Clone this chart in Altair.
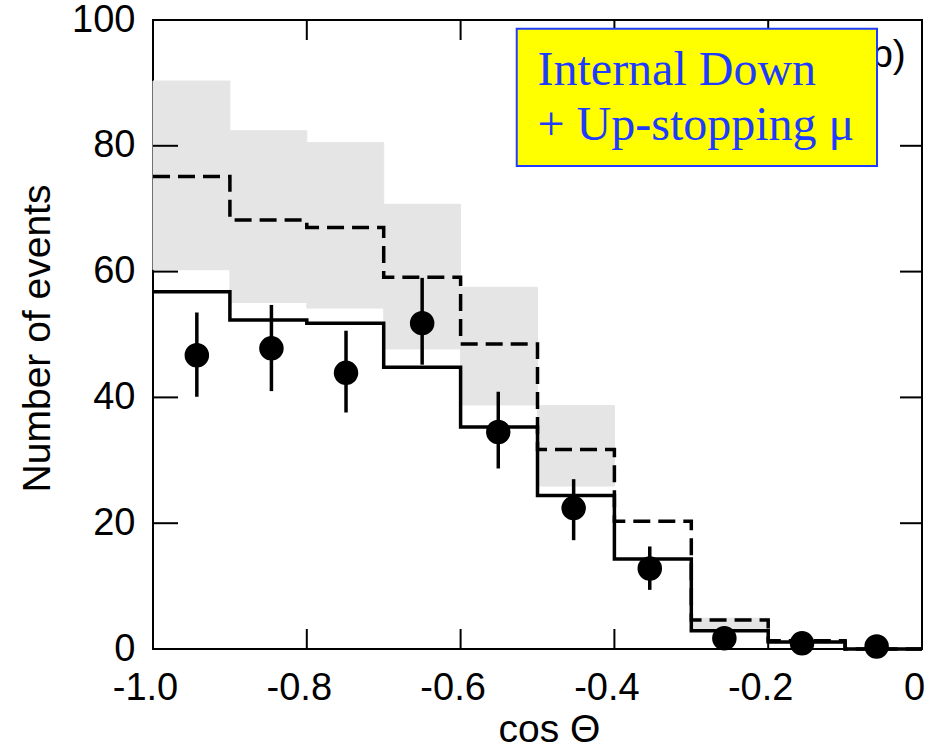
import altair as alt
import pandas as pd

# Bin edges in cos(Theta)
bin_lo = [-1.0, -0.9, -0.8, -0.7, -0.6, -0.5, -0.4, -0.3, -0.2, -0.1]
bin_hi = [-0.9, -0.8, -0.7, -0.6, -0.5, -0.4, -0.3, -0.2, -0.1, 0.0]

# Monte Carlo with oscillation (solid) and without oscillation (dashed)
mc_osc = [56.8, 52.3, 51.8, 44.8, 35.3, 24.4, 14.3, 2.9, 1.1, 0.0]
mc_noosc = [75.1, 68.2, 67.0, 59.1, 48.5, 31.7, 20.3, 4.6, 1.3, 0.0]

# Systematic band on the no-oscillation prediction
band_bins = [0, 1, 2, 3, 4, 5, 7]
band_low = [60.3, 55.1, 54.2, 47.7, 38.8, 25.9, 3.0]
band_high = [90.3, 82.4, 80.5, 70.7, 57.5, 38.7, 4.9]

# Observed data with statistical errors
data_x = [-0.943, -0.846, -0.749, -0.650, -0.551, -0.453, -0.354, -0.257, -0.156, -0.059]
data_y = [46.7, 47.8, 43.9, 51.8, 34.5, 22.4, 12.8, 1.7, 0.9, 0.4]
data_lo = [40.1, 41.0, 37.6, 45.2, 28.7, 17.3, 9.4, 0.6, 0.2, 0.0]
data_hi = [53.5, 54.7, 50.6, 59.0, 40.9, 27.0, 16.3, 3.0, 1.8, 1.0]

x_ticks = [-1.0, -0.8, -0.6, -0.4, -0.2, 0.0]
y_ticks = [0, 20, 40, 60, 80, 100]

W, H = 769, 629
SANS = "Liberation Sans, Arial, Helvetica, sans-serif"
SERIF = "Liberation Serif, Times New Roman, serif"
BLUE = "#1e3cff"
BAND = "#e5e5e5"


def step_table(values):
    rows = [{"x": lo, "y": v} for lo, v in zip(bin_lo, values)]
    rows.append({"x": bin_hi[-1], "y": values[-1]})
    return pd.DataFrame(rows)


xs = alt.Scale(domain=[-1.0, 0.0], nice=False, zero=False)
ys = alt.Scale(domain=[0, 100], nice=False, zero=False)

x_axis = alt.Axis(
    values=x_ticks, ticks=False, domain=False, grid=False,
    labelExpr="datum.value == 0 ? '0' : '-' + format(abs(datum.value), '.1f')",
    labelFont=SANS, labelFontSize=38, labelColor="black", labelPadding=20,
    labelOffset=-8, labelFlush=False, labelOverlap=False,
    title="cos Θ", titleFont=SANS, titleFontSize=39, titleFontWeight="normal",
    titleColor="black", titlePadding=3, titleX=396,
)
y_axis = alt.Axis(
    values=y_ticks, ticks=False, domain=False, grid=False, format="d",
    labelFont=SANS, labelFontSize=38, labelColor="black", labelPadding=18,
    labelFlush=False, labelOverlap=False,
    title="Number of events", titleFont=SANS, titleFontSize=39,
    titleFontWeight="normal", titleColor="black", titlePadding=14, titleY=318,
)

band_df = pd.DataFrame({
    "lo_x": [bin_lo[i] for i in band_bins],
    "hi_x": [bin_hi[i] for i in band_bins],
    "low": band_low,
    "high": band_high,
})
band = alt.Chart(band_df).mark_rect(
    fill=BAND, stroke=BAND, strokeWidth=1
).encode(
    x=alt.X("lo_x:Q", scale=xs, axis=x_axis),
    x2="hi_x:Q",
    y=alt.Y("low:Q", scale=ys, axis=y_axis),
    y2="high:Q",
)

dashed = alt.Chart(step_table(mc_noosc)).mark_line(
    interpolate="step-after", color="black", strokeWidth=3.5, strokeDash=[17, 8]
).encode(x=alt.X("x:Q", scale=xs), y=alt.Y("y:Q", scale=ys))

solid = alt.Chart(step_table(mc_osc)).mark_line(
    interpolate="step-after", color="black", strokeWidth=3.5
).encode(x=alt.X("x:Q", scale=xs), y=alt.Y("y:Q", scale=ys))

pts_df = pd.DataFrame({"x": data_x, "y": data_y, "lo": data_lo, "hi": data_hi})
errbars = alt.Chart(pts_df).mark_rule(color="black", strokeWidth=3.5).encode(
    x=alt.X("x:Q", scale=xs), y=alt.Y("lo:Q", scale=ys), y2="hi:Q"
)
points = alt.Chart(pts_df).mark_point(
    shape="circle", filled=True, color="black", opacity=1, size=600
).encode(x=alt.X("x:Q", scale=xs), y=alt.Y("y:Q", scale=ys))

# Inward tick marks on all four sides of the frame
yt = pd.DataFrame({"v": y_ticks[1:-1]})
xt = pd.DataFrame({"v": x_ticks[1:-1]})
tick_style = dict(color="black", strokeWidth=2)
left_ticks = alt.Chart(yt).mark_rule(**tick_style).encode(
    y=alt.Y("v:Q", scale=ys), x=alt.value(0), x2=alt.value(25))
right_ticks = alt.Chart(yt).mark_rule(**tick_style).encode(
    y=alt.Y("v:Q", scale=ys), x=alt.value(W - 22), x2=alt.value(W))
bottom_ticks = alt.Chart(xt).mark_rule(**tick_style).encode(
    x=alt.X("v:Q", scale=xs), y=alt.value(H), y2=alt.value(H - 20))
top_ticks = alt.Chart(xt).mark_rule(**tick_style).encode(
    x=alt.X("v:Q", scale=xs), y=alt.value(0), y2=alt.value(20))

# Panel label, partly covered by the annotation box
panel = alt.Chart(pd.DataFrame({"x": [-0.021], "y": [92.5], "t": ["(b)"]})).mark_text(
    align="right", baseline="alphabetic", font=SANS, fontSize=39, color="black"
).encode(x=alt.X("x:Q", scale=xs), y=alt.Y("y:Q", scale=ys), text="t:N")

box = alt.Chart(pd.DataFrame({"x": [-0.527], "x2": [-0.0585], "y": [76.8], "y2": [98.6]})).mark_rect(
    fill="#ffff00", stroke=BLUE, strokeWidth=2
).encode(x=alt.X("x:Q", scale=xs), x2="x2:Q", y=alt.Y("y:Q", scale=ys), y2="y2:Q")

box_text = alt.Chart(pd.DataFrame({
    "x": [-0.5, -0.5], "y": [89.7, 80.9],
    "t": ["Internal Down", "+ Up-stopping μ"],
})).mark_text(
    align="left", baseline="alphabetic", font=SERIF, fontSize=48, color=BLUE
).encode(x=alt.X("x:Q", scale=xs), y=alt.Y("y:Q", scale=ys), text="t:N")

chart = alt.layer(
    band, dashed, solid, errbars, points,
    left_ticks, right_ticks, bottom_ticks, top_ticks,
    panel, box, box_text,
).properties(
    width=W, height=H,
    padding={"left": 153, "top": 20, "right": 29, "bottom": 98},
    autosize=alt.AutoSizeParams(type="none"),
    background="white",
).configure_view(stroke="black", strokeWidth=2)

chart.save("out.html", embed_options={"renderer": "svg", "actions": False})
